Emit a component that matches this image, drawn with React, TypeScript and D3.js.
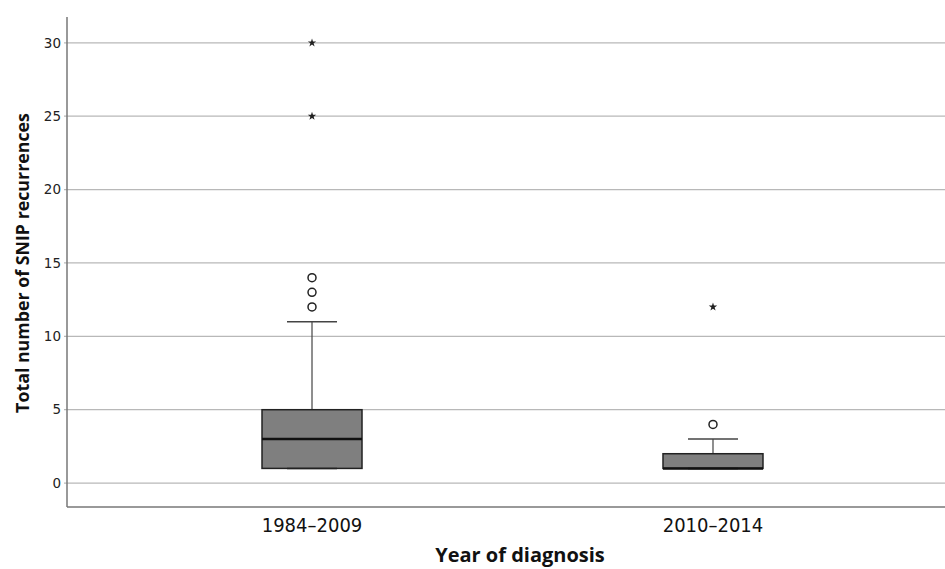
import React from "react";
import * as d3 from "d3";

const categories = ["1984–2009", "2010–2014"];
const q1 = [1, 1];
const median = [3, 1];
const q3 = [5, 2];
const whiskerLow = [1, 1];
const whiskerHigh = [11, 3];
const outliers = [[12, 13, 14], [4]];
const extremes = [[25, 30], [12]];
const yTicks = [0, 5, 10, 15, 20, 25, 30];

const W = 945;
const H = 569;
const left = 67;
const right = 945;
const top = 17;
const bottom = 507;

export default function App() {
  const y = d3.scaleLinear().domain([-1.63, 31.76]).range([bottom, top]);
  const x = d3.scaleBand<string>().domain(categories).range([left, 958]).padding(0.222);
  const boxW = 100;
  const capW = 50;
  const star = d3.symbol().type(d3.symbolStar).size(22);
  return (
    <svg width={W} height={H} style={{ position: "absolute", left: 0, top: 0, background: "#fff" }}>
      <g>
        {yTicks.map((t) => (
          <g key={t}>
            <line x1={left - 3} x2={right} y1={y(t)} y2={y(t)} stroke="#b8b8b8" strokeWidth={1.3} />
            <text x={61} y={y(t)} dy="0.35em" textAnchor="end" fontFamily="DejaVu Sans, sans-serif" fontSize={13.5} fill="#222">
              {t}
            </text>
          </g>
        ))}
        <line x1={left} x2={left} y1={top} y2={bottom} stroke="#777" strokeWidth={1.5} />
        <line x1={left} x2={right} y1={bottom} y2={bottom} stroke="#777" strokeWidth={1.5} />
        {categories.map((c, i) => {
          const cx = (x(c) as number) + x.bandwidth() / 2;
          return (
            <g key={c}>
              <line x1={cx} x2={cx} y1={y(q3[i])} y2={y(whiskerHigh[i])} stroke="#444" strokeWidth={1.2} />
              <line x1={cx - capW / 2} x2={cx + capW / 2} y1={y(whiskerHigh[i])} y2={y(whiskerHigh[i])} stroke="#444" strokeWidth={1.5} />
              <line x1={cx} x2={cx} y1={y(q1[i])} y2={y(whiskerLow[i])} stroke="#444" strokeWidth={1.2} />
              <rect x={cx - boxW / 2} y={y(q3[i])} width={boxW} height={y(q1[i]) - y(q3[i])} fill="#7f7f7f" stroke="#222" strokeWidth={1.5} />
              <line x1={cx - capW / 2} x2={cx + capW / 2} y1={y(whiskerLow[i])} y2={y(whiskerLow[i])} stroke="#222" strokeWidth={1.5} />
              <line x1={cx - boxW / 2} x2={cx + boxW / 2} y1={y(median[i])} y2={y(median[i])} stroke="#111" strokeWidth={2.5} />
              {outliers[i].map((v) => (
                <circle key={v} cx={cx} cy={y(v)} r={4} fill="#fff" stroke="#222" strokeWidth={1.5} />
              ))}
              {extremes[i].map((v) => (
                <path key={v} d={star() as string} transform={`translate(${cx},${y(v)})`} fill="#222" />
              ))}
              <text x={cx} y={524.5} dy="0.35em" textAnchor="middle" fontFamily="DejaVu Sans Condensed, DejaVu Sans, sans-serif" fontSize={20} fill="#111">
                {c}
              </text>
            </g>
          );
        })}
        <text x={520} y={562} textAnchor="middle" fontFamily="Open Sans, DejaVu Sans, sans-serif" fontWeight="bold" fontSize={20} fill="#111">
          Year of diagnosis
        </text>
        <text transform={`translate(29,263) rotate(-90)`} textAnchor="middle" fontFamily="Open Sans, DejaVu Sans, sans-serif" fontWeight="bold" fontSize={17.8} fill="#111">
          Total number of SNIP recurrences
        </text>
      </g>
    </svg>
  );
}
